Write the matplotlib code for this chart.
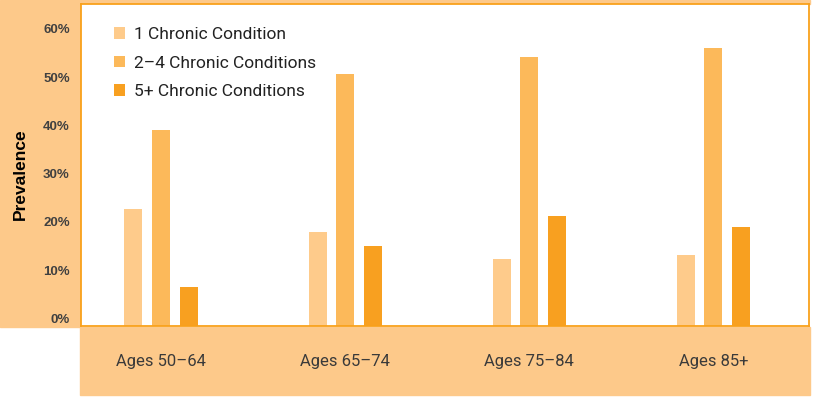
import numpy as np
import matplotlib.pyplot as plt
from matplotlib.patches import Rectangle

# data
age_groups = ["Ages 50\u201364", "Ages 65\u201374", "Ages 75\u201384", "Ages 85+"]
series_names = ["1 Chronic Condition", "2\u20134 Chronic Conditions", "5+ Chronic Conditions"]
one_condition = [24.2, 19.5, 13.9, 14.7]
two_to_four = [40.6, 52.2, 55.8, 57.6]
five_plus = [8.1, 16.6, 22.8, 20.5]
ytick_vals = [0, 10, 20, 30, 40, 50, 60]

colors = ["#FECB8B", "#FCB95A", "#F8A020"]
panel = "#FDC98A"
edge = "#F9A11B"

fig = plt.figure(figsize=(8.14, 4.0), dpi=100)
W, H = 814, 400

# orange panels behind the axes
for rect in [(0, 1 - 327 / H, 80 / W, 327 / H),
             (80 / W, 1 - 4 / H, 730 / W, 4 / H),
             (80 / W, 5 / H, 730 / W, 68 / H)]:
    fig.patches.append(Rectangle(rect[:2], rect[2], rect[3], transform=fig.transFigure,
                                 color=panel, zorder=-5))

ax = fig.add_axes([81 / W, 1 - 326 / H, 728 / W, 322 / H])
ax.set_facecolor("white")

x = np.arange(len(age_groups))
w = 0.098
off = 0.15
for i, (vals, name) in enumerate(zip([one_condition, two_to_four, five_plus], series_names)):
    ax.bar(x + (i - 1) * off, vals, width=w, color=colors[i], label=name, zorder=2)

ax.set_xlim(-0.435, 3.52)
ax.set_ylim(0, 66.7)

ax.set_yticks(ytick_vals)
ax.set_yticklabels([f"{v}%" for v in ytick_vals], fontfamily="Liberation Sans",
                   fontweight="bold", fontsize=9.5, color="#404040")
for t in ax.get_yticklabels():
    t.set_va("bottom")
ax.tick_params(axis="y", length=0, pad=8)

ax.set_xticks(x)
ax.set_xticklabels(age_groups, fontfamily="Roboto", fontsize=12, color="#3a3a3a")
ax.tick_params(axis="x", length=0, pad=20)

for s in ax.spines.values():
    s.set_color(edge)
    s.set_linewidth(1.3)

fig.text(20 / W, 1 - 174 / H, "Prevalence", rotation=90, ha="center", va="center",
         fontfamily="Liberation Sans", fontweight="bold", fontsize=12.5, color="black")

ax.legend(loc="upper left", bbox_to_anchor=(114 / W, 1 - 27 / H), bbox_transform=fig.transFigure,
          frameon=False, prop={"family": "Roboto", "size": 12.5}, handlelength=0.63,
          handleheight=0.63, handletextpad=0.55, labelspacing=0.78, borderpad=0,
          borderaxespad=0, labelcolor="#222222")

fig.savefig("out.png", dpi=100)
